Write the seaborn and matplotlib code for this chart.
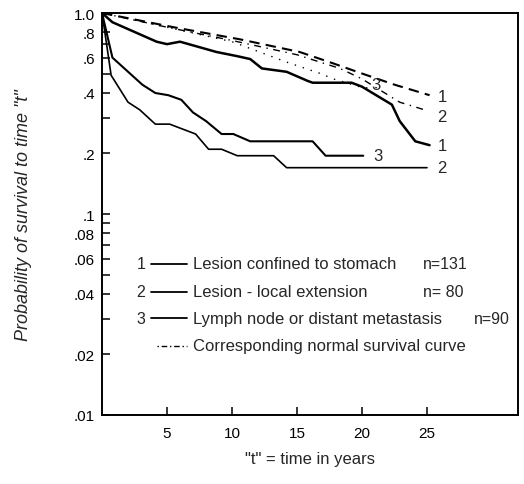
import numpy as np
import pandas as pd
import seaborn as sns
import matplotlib.pyplot as plt
from matplotlib.ticker import FixedLocator, NullFormatter

# observed survival curves (years, probability)
t_stomach = [0, 0.8, 4.2, 5, 6, 8.8, 10.4, 11.4, 12.3, 14.2, 15.8, 16.2, 19.2, 20, 22.3, 22.9, 24.1, 25.2]
p_stomach = [1.0, 0.90, 0.72, 0.70, 0.72, 0.64, 0.61, 0.59, 0.53, 0.51, 0.46, 0.45, 0.45, 0.43, 0.35, 0.29, 0.23, 0.22]

t_local = [0, 0.7, 2, 2.9, 4.1, 5.2, 7.2, 8.2, 9.2, 10.4, 13.2, 14.2, 25]
p_local = [1.0, 0.49, 0.36, 0.33, 0.28, 0.28, 0.25, 0.21, 0.21, 0.195, 0.195, 0.17, 0.17]

t_meta = [0, 0.8, 3.1, 4.1, 5.1, 6.1, 7, 8, 9.2, 10.1, 11.4, 16.2, 17.2, 20.1]
p_meta = [1.0, 0.60, 0.44, 0.40, 0.39, 0.37, 0.32, 0.29, 0.25, 0.25, 0.23, 0.23, 0.195, 0.195]

# corresponding normal survival curves
t_norm1 = [0, 5.5, 10.6, 15.2, 17.5, 20, 22.5, 25.2]
p_norm1 = [1.0, 0.85, 0.74, 0.64, 0.57, 0.50, 0.44, 0.39]
t_norm2 = [0, 5, 10, 15, 18.3, 20, 22.9, 24.8]
p_norm2 = [1.0, 0.85, 0.73, 0.62, 0.53, 0.47, 0.36, 0.33]
t_norm3 = [0, 5, 10, 14.2, 16.8, 17.8, 19.8, 20.8]
p_norm3 = [1.0, 0.85, 0.72, 0.57, 0.50, 0.47, 0.43, 0.42]

y_major = [1.0, 0.8, 0.6, 0.4, 0.2, 0.1, 0.08, 0.06, 0.04, 0.02, 0.01]
y_labels = ["1.0", ".8", ".6", ".4", ".2", ".1", ".08", ".06", ".04", ".02", ".01"]
y_minor = [0.7, 0.5, 0.3, 0.09, 0.07, 0.05, 0.03]
x_ticks = [5, 10, 15, 20, 25]

legend_rows = [("1", "Lesion confined to stomach", "n=131"),
               ("2", "Lesion - local extension", "n= 80"),
               ("3", "Lymph node or distant metastasis", "n=90")]

sns.set_style("ticks")
plt.rcParams['font.family'] = ['Liberation Sans', 'DejaVu Sans']

fig = plt.figure(figsize=(5.24, 4.85), dpi=100)
ax = fig.add_axes([0.1947, 0.1423, 0.7938, 0.8288])

blk = "black"
sns.lineplot(x=t_stomach, y=p_stomach, ax=ax, color=blk, lw=1.8, estimator=None)
sns.lineplot(x=t_local, y=p_local, ax=ax, color=blk, lw=1.2, estimator=None)
sns.lineplot(x=t_meta, y=p_meta, ax=ax, color=blk, lw=1.5, estimator=None)
sns.lineplot(x=t_norm1, y=p_norm1, ax=ax, color=blk, lw=1.5, estimator=None, linestyle=(0, (5, 3)))
sns.lineplot(x=t_norm2, y=p_norm2, ax=ax, color=blk, lw=1.0, estimator=None, linestyle=(0, (5, 4, 1, 4)))
sns.lineplot(x=t_norm3, y=p_norm3, ax=ax, color=blk, lw=1.0, estimator=None, linestyle=(0, (1, 5)))

ax.set_yscale("log")
ax.set_xlim(0, 32)
ax.set_ylim(0.01, 1.0)
ax.yaxis.set_major_locator(FixedLocator(y_major))
ax.set_yticklabels(y_labels)
ax.yaxis.set_minor_locator(FixedLocator(y_minor))
ax.yaxis.set_minor_formatter(NullFormatter())
ax.set_xticks(x_ticks)
ax.set_xticklabels([str(v) for v in x_ticks])

ax.tick_params(axis="both", which="both", direction="in", length=6, width=1.1,
               labelsize=11, colors=blk)
ax.tick_params(axis="x", pad=8)
ax.tick_params(axis="y", pad=5)
for s in ax.spines.values():
    s.set_visible(True)
    s.set_linewidth(1.4)
    s.set_color(blk)

# end-of-curve labels
ends = [(25.8, 0.385, "1"), (25.8, 0.305, "2"), (20.7, 0.44, "3"),
        (25.8, 0.22, "1"), (20.9, 0.195, "3"), (25.8, 0.17, "2")]
for x, y, s in ends:
    ax.text(x, y, s, fontsize=12, va="center", ha="left")

# legend drawn as text block
rows_y = [0.376, 0.306, 0.241]
for (num, lab, n), y in zip(legend_rows, rows_y):
    ax.text(0.093, y, num, transform=ax.transAxes, fontsize=11.5, ha="center", va="center")
    ax.plot([0.117, 0.204], [y, y], transform=ax.transAxes, color=blk, lw=1.3)
    ax.text(0.219, y, lab, transform=ax.transAxes, fontsize=12, ha="left", va="center")
ax.text(0.772, rows_y[0], legend_rows[0][2], transform=ax.transAxes, fontsize=11.5, va="center")
ax.text(0.772, rows_y[1], legend_rows[1][2], transform=ax.transAxes, fontsize=11.5, va="center")
ax.text(0.893, rows_y[2], legend_rows[2][2], transform=ax.transAxes, fontsize=11.5, va="center")
ax.plot([0.132, 0.204], [0.172, 0.172], transform=ax.transAxes, color=blk, lw=1.0,
        linestyle=(0, (1, 2, 4, 2)))
ax.text(0.219, 0.172, "Corresponding normal survival curve", transform=ax.transAxes,
        fontsize=12, ha="left", va="center")

ax.set_xlabel('"t" = time in years', fontsize=12, labelpad=8)
ax.set_ylabel('Probability of survival to time "t"', fontsize=13, style="italic", labelpad=30)

fig.savefig("out.png", dpi=100)
